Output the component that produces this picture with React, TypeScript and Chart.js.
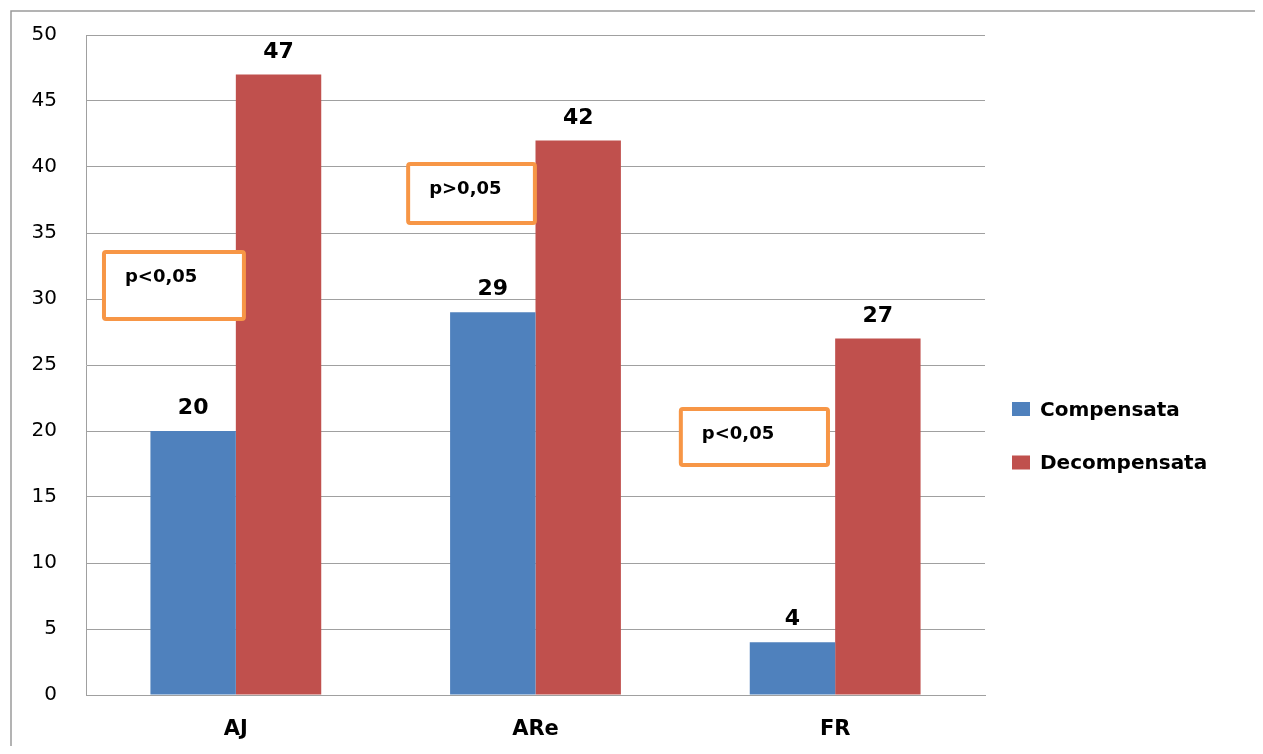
import React, { useEffect, useRef } from 'react';
import { Chart, registerables } from 'chart.js';

Chart.register(...registerables);

// ---- data ----
const categories = ['AJ', 'ARe', 'FR'];
const seriesNames = ['Compensata', 'Decompensata'];
const compensata = [20, 29, 4];
const decompensata = [47, 42, 27];
const yMin = 0;
const yMax = 50;
const yStep = 5;
const pValueLabels = ['p<0,05', 'p>0,05', 'p<0,05'];

// ---- styles / layout ----
const COLORS = ['#4F81BD', '#C0504D'];
const GRID = '#a0a0a0';
const ORANGE = '#F79646';
const FONT = 'DejaVu Sans';

// placement of the p-value boxes (category index, horizontal offsets as fraction
// of the category width, vertical extent in axis units)
const pBoxPlacement = [
  { cat: 0, x0: -0.44, x1: 0.027, yTop: 33.56, yBottom: 28.48 },
  { cat: 1, x0: -0.425, x1: -0.002, yTop: 40.23, yBottom: 35.76 },
  { cat: 2, x0: -0.515, x1: -0.024, yTop: 21.67, yBottom: 17.42 },
];

const framePlugin = {
  id: 'frame',
  beforeDraw(chart: any) {
    const { ctx, width, height } = chart;
    ctx.save();
    ctx.strokeStyle = '#9a9a9a';
    ctx.lineWidth = 1.5;
    ctx.beginPath();
    ctx.moveTo(3, height + 5);
    ctx.lineTo(3, 3);
    ctx.lineTo(width + 5, 3);
    ctx.stroke();
    ctx.restore();
  },
};

const pBoxPlugin = {
  id: 'pBoxes',
  afterDatasetsDraw(chart: any) {
    const { ctx, scales } = chart;
    const xs = scales.x;
    const ys = scales.y;
    const catW = xs.width / categories.length;
    ctx.save();
    pBoxPlacement.forEach((b, i) => {
      const cx = xs.getPixelForValue(b.cat);
      const left = cx + b.x0 * catW;
      const right = cx + b.x1 * catW;
      const top = ys.getPixelForValue(b.yTop);
      const bottom = ys.getPixelForValue(b.yBottom);
      ctx.beginPath();
      if ((ctx as any).roundRect) {
        (ctx as any).roundRect(left, top, right - left, bottom - top, 2);
      } else {
        ctx.rect(left, top, right - left, bottom - top);
      }
      ctx.fillStyle = '#ffffff';
      ctx.fill();
      ctx.lineWidth = 4;
      ctx.strokeStyle = ORANGE;
      ctx.stroke();
      ctx.fillStyle = '#000';
      ctx.font = `bold 18px "${FONT}"`;
      ctx.textAlign = 'left';
      ctx.textBaseline = 'middle';
      ctx.fillText(pValueLabels[i], left + 21, top + 25);
    });
    ctx.restore();
  },
};

const valueLabelPlugin = {
  id: 'valueLabels',
  afterDatasetsDraw(chart: any) {
    const { ctx } = chart;
    ctx.save();
    ctx.fillStyle = '#000';
    ctx.font = `bold 22px "${FONT}"`;
    ctx.textAlign = 'center';
    ctx.textBaseline = 'alphabetic';
    chart.data.datasets.forEach((ds: any, di: number) => {
      const meta = chart.getDatasetMeta(di);
      meta.data.forEach((bar: any, i: number) => {
        ctx.fillText(String(ds.data[i]), bar.x, bar.y - 17);
      });
    });
    ctx.restore();
  },
};

const legendPlugin = {
  id: 'customLegend',
  afterDraw(chart: any) {
    const { ctx, chartArea } = chart;
    ctx.save();
    ctx.font = `bold 20px "${FONT}"`;
    ctx.textAlign = 'left';
    ctx.textBaseline = 'middle';
    chart.data.datasets.forEach((ds: any, i: number) => {
      const cy = chartArea.top + 374 + i * 53.5;
      ctx.fillStyle = ds.backgroundColor;
      ctx.fillRect(chartArea.right + 27, cy - 7, 18, 14);
      ctx.fillStyle = '#000';
      ctx.fillText(ds.label, chartArea.right + 55, cy + 1.5);
    });
    ctx.restore();
  },
};

export default function App() {
  const ref = useRef<HTMLCanvasElement | null>(null);

  useEffect(() => {
    if (!ref.current) return;
    const chart = new Chart(ref.current, {
      type: 'bar',
      data: {
        labels: categories,
        datasets: [
          { label: seriesNames[0], data: compensata, backgroundColor: COLORS[0], borderWidth: 0 },
          { label: seriesNames[1], data: decompensata, backgroundColor: COLORS[1], borderWidth: 0 },
        ],
      },
      options: {
        responsive: false,
        animation: false,
        devicePixelRatio: 1,
        layout: { padding: { left: 18, top: 27, right: 270, bottom: 0 } },
        datasets: { bar: { barPercentage: 1, categoryPercentage: 0.57 } },
        plugins: {
          legend: { display: false },
          tooltip: { enabled: false },
          title: { display: false },
        },
        scales: {
          x: {
            grid: { display: false, drawTicks: false },
            border: { display: true, color: GRID, width: 1 },
            ticks: {
              color: '#000',
              padding: 22,
              font: { family: FONT, size: 21, weight: 'bold' },
            },
            afterFit(scale: any) {
              scale.height = 51;
            },
          },
          y: {
            min: yMin,
            max: yMax,
            grid: {
              color: GRID,
              lineWidth: 1,
              drawTicks: true,
              tickLength: 29,
              tickColor: 'rgba(0,0,0,0)',
            },
            border: { display: true, color: GRID, width: 1 },
            ticks: {
              stepSize: yStep,
              color: '#000',
              padding: 0,
              font: { family: FONT, size: 20 },
            },
            afterFit(scale: any) {
              scale.width = 60;
            },
          },
        },
      },
      plugins: [framePlugin, pBoxPlugin, valueLabelPlugin, legendPlugin],
    });
    return () => chart.destroy();
  }, []);

  return (
    <div style={{ width: 1247, height: 738 }}>
      <canvas ref={ref} width={1247} height={738} style={{ display: 'block' }} />
    </div>
  );
}
